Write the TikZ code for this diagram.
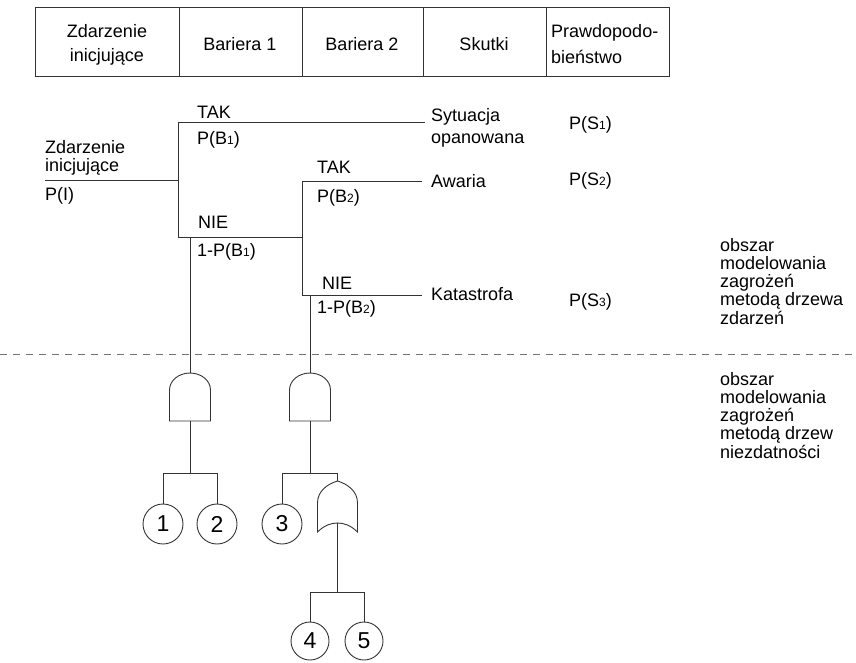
\documentclass[tikz,border=0pt]{standalone}
\usepackage{fontspec}
\setmainfont{Liberation Sans}
\newcommand\ix[1]{{\fontsize{12}{12}\selectfont #1}}
\begin{document}
\begin{tikzpicture}[x=1pt, y=-1pt,
  every node/.style={inner sep=0pt, font=\fontsize{18}{18}\selectfont},
  ln/.style={draw=black!80, line width=0.9pt},
  lbl/.style={anchor=base west},
  hdr/.style={anchor=base},
  num/.style={circle, draw=black!80, line width=0.9pt, minimum size=40pt,
    font=\fontsize{23}{23}\selectfont},
  numsm/.style={num, minimum size=38pt},
  sep/.style={draw=black!55, line width=0.9pt, dash pattern=on 7pt off 6pt},
  andgate/.pic={
    \draw[ln] (-20.5,48) -- (-20.5,17)
      .. controls (-20.5,7.6) and (-11.3,0) .. (0,0)
      .. controls (11.3,0) and (20.5,7.6) .. (20.5,17)
      -- (20.5,48) -- cycle;
    \coordinate (-top) at (0,0);
    \coordinate (-bot) at (0,48);
  },
  orgate/.pic={
    \draw[ln] (-20,51) -- (-20,22)
      .. controls (-20,10) and (-10,3) .. (0,0)
      .. controls (10,3) and (20,10) .. (20,22)
      -- (20,51)
      .. controls (13,44) and (6,42) .. (0,42)
      .. controls (-6,42) and (-13,44) .. (-20,51) -- cycle;
    \coordinate (-top) at (0,0);
    \coordinate (-bot) at (0,42);
  }]
\useasboundingbox (0,0) rectangle (856,662);

% ---- header table ----
\draw[ln] (35,7) rectangle (669,76);
\foreach \cx in {179,302,423,546} \draw[ln] (\cx,7) -- (\cx,76);
\node[hdr] (h1a) at (107,37) {Zdarzenie};
\node[hdr] (h1b) at (107,61.5) {inicjujące};
\node[hdr] (h2) at (240,50) {Bariera 1};
\node[hdr] (h3) at (362,50) {Bariera 2};
\node[hdr] (h4) at (484,50) {Skutki};
\node[lbl] (h5a) at (551,37) {Prawdopodo-};
\node[lbl] (h5b) at (551,63) {bieństwo};

% ---- event tree ----
\coordinate (i0) at (45,180);
\coordinate (j1) at (178,180);
\coordinate (j1t) at (178,122);
\coordinate (s1) at (425,122);
\coordinate (j1b) at (178,237);
\coordinate (j2) at (302,237);
\coordinate (j2t) at (302,181);
\coordinate (s2) at (422,181);
\coordinate (j2b) at (302,295);
\coordinate (s3) at (422,295);
\coordinate (d1) at (190,237);
\coordinate (d2) at (310,295);

\draw[ln] (i0) -- (j1);
\draw[ln] (s1) -- (j1t) -- (j1b) -- (j2);
\draw[ln] (s2) -- (j2t) -- (j2b) -- (s3);

\node[lbl] (zi1) at (45,153) {Zdarzenie};
\node[lbl] (zi2) at (45,171.5) {inicjujące};
\node[lbl] (pi) at (45,200) {P(I)};

\node[lbl] (tak1) at (197,118) {TAK};
\node[lbl] (pb1) at (197,144) {P(B\ix{1})};
\node[lbl] (nie1) at (198,228) {NIE};
\node[lbl] (npb1) at (197,256) {1-P(B\ix{1})};

\node[lbl] (tak2) at (317,173) {TAK};
\node[lbl] (pb2) at (317,202) {P(B\ix{2})};
\node[lbl] (nie2) at (322,289) {NIE};
\node[lbl] (npb2) at (317,313) {1-P(B\ix{2})};

\node[lbl] (o1a) at (431,121) {Sytuacja};
\node[lbl] (o1b) at (431,143) {opanowana};
\node[lbl] (o2) at (431,187) {Awaria};
\node[lbl] (o3) at (431,300) {Katastrofa};

\node[lbl] (ps1) at (569,129) {P(S\ix{1})};
\node[lbl] (ps2) at (569,185) {P(S\ix{2})};
\node[lbl] (ps3) at (569,306) {P(S\ix{3})};

% ---- region notes ----
\node[lbl] (n1) at (720,251) {obszar};
\node[lbl] (n2) at (720,269.3) {modelowania};
\node[lbl] (n3) at (720,287.6) {zagrożeń};
\node[lbl] (n4) at (720,305.9) {metodą drzewa};
\node[lbl] (n5) at (720,324.2) {zdarzeń};

\node[lbl] (m1) at (720,385) {obszar};
\node[lbl] (m2) at (720,403.3) {modelowania};
\node[lbl] (m3) at (720,421.6) {zagrożeń};
\node[lbl] (m4) at (720,439.9) {metodą drzew};
\node[lbl] (m5) at (720,458.2) {niezdatności};

\coordinate (dl) at (0,354);
\coordinate (dr) at (856,354);
\draw[sep] (dl) -- (dr);

% ---- fault trees ----
\pic (g1) at (190,373) {andgate};
\pic (g2) at (310,373) {andgate};
\pic (g3) at (337.5,481) {orgate};

\draw[ln] (d1) -- (g1-top);
\draw[ln] (d2) -- (g2-top);

\node[num] (c1) at (163,524) {1};
\node[num] (c2) at (217,524) {2};
\node[num] (c3) at (282,524) {3};
\node[numsm] (c4) at (310,641) {4};
\node[numsm] (c5) at (364,641) {5};

\coordinate (b1) at (190,473);
\coordinate (b2) at (310,473);
\coordinate (b3) at (337.5,592);

\draw[ln] (g1-bot) -- (b1);
\draw[ln] (c1.north) -- (c1.north |- b1) -- (c2.north |- b1) -- (c2.north);
\draw[ln] (g2-bot) -- (b2);
\draw[ln] (c3.north) -- (c3.north |- b2) -- (g3-top |- b2) -- (g3-top);
\draw[ln] (g3-bot) -- (b3);
\draw[ln] (c4.north) -- (c4.north |- b3) -- (c5.north |- b3) -- (c5.north);
\end{tikzpicture}
\end{document}
